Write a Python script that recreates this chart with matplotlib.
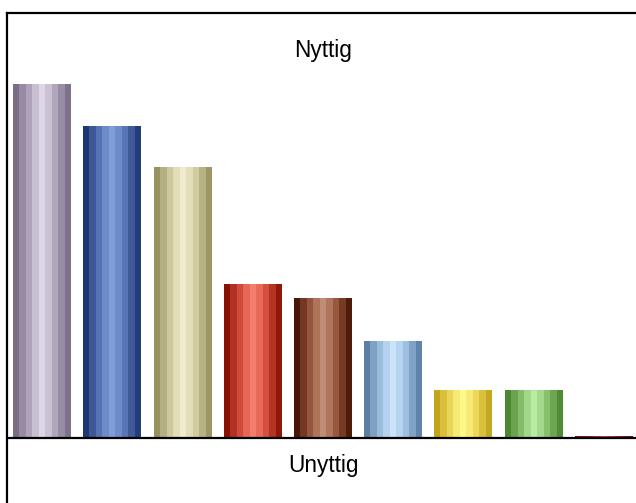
import numpy as np
import matplotlib.pyplot as plt
from matplotlib.colors import to_rgb

plt.rcParams['font.family'] = ['Liberation Sans', 'DejaVu Sans']

# verdier for hver søyle (vilkårlig enhet)
verdier = [35.4, 31.2, 27.1, 15.4, 14.0, 9.6, 4.8, 4.8, 0.15]
# farger: mørk kant, midt, lys høydepunkt
mork = ["#7a6d86", "#1d3874", "#97925f", "#8a1205", "#4a1706", "#5a7ea5", "#c2a41c", "#4c8830", "#7a0830"]
midt = ["#b3a9bf", "#5b79b9", "#d3cfa3", "#d9513f", "#9b5b41", "#a0c2e3", "#eedb5c", "#8ac270", "#a81850"]
lys = ["#ddd6e7", "#7f9dd6", "#efebcc", "#f47d6c", "#c08d74", "#c9e3fb", "#fff98c", "#b9eca2", "#c83468"]

# lyshetsprofil over søylebredden (0 = mørk, 1 = lys)
profil = np.array([0.0, 0.3, 0.55, 0.8, 1.0, 0.82, 0.58, 0.32, 0.05])


def stripefarger(d, m, l):
    d, m, l = np.array(to_rgb(d)), np.array(to_rgb(m)), np.array(to_rgb(l))
    ut = []
    for t in profil:
        if t < 0.6:
            s = t / 0.6
            ut.append(d + (m - d) * s)
        else:
            s = (t - 0.6) / 0.4
            ut.append(m + (l - m) * s)
    return np.array(ut)


fig = plt.figure(figsize=(6.36, 5.03), dpi=100)
ax = fig.add_axes([7 / 636, 0, 1 - 7 / 636, 490 / 503])

bredde = 0.826
for i, v in enumerate(verdier):
    farger = stripefarger(mork[i], midt[i], lys[i])
    ax.imshow(farger[np.newaxis, :, :], extent=(i - bredde / 2, i + bredde / 2, 0, v),
              aspect='auto', interpolation='nearest', zorder=2)

ax.axhline(0, color='black', lw=1.6, zorder=3)
ax.set_xlim(-0.5, 8.46)
ax.set_ylim(-6.5, 42.5)
ax.set_xticks([])
ax.set_yticks([])
for s in ['right', 'bottom']:
    ax.spines[s].set_visible(False)
for s in ['left', 'top']:
    ax.spines[s].set_linewidth(1.6)

fig.text(323 / 636, 1 - 57 / 503, "Nyttig", ha='center', va='baseline', fontsize=16.3)
fig.text(324 / 636, 1 - 472 / 503, "Unyttig", ha='center', va='baseline', fontsize=16.3)

fig.savefig("out.png", dpi=100)
